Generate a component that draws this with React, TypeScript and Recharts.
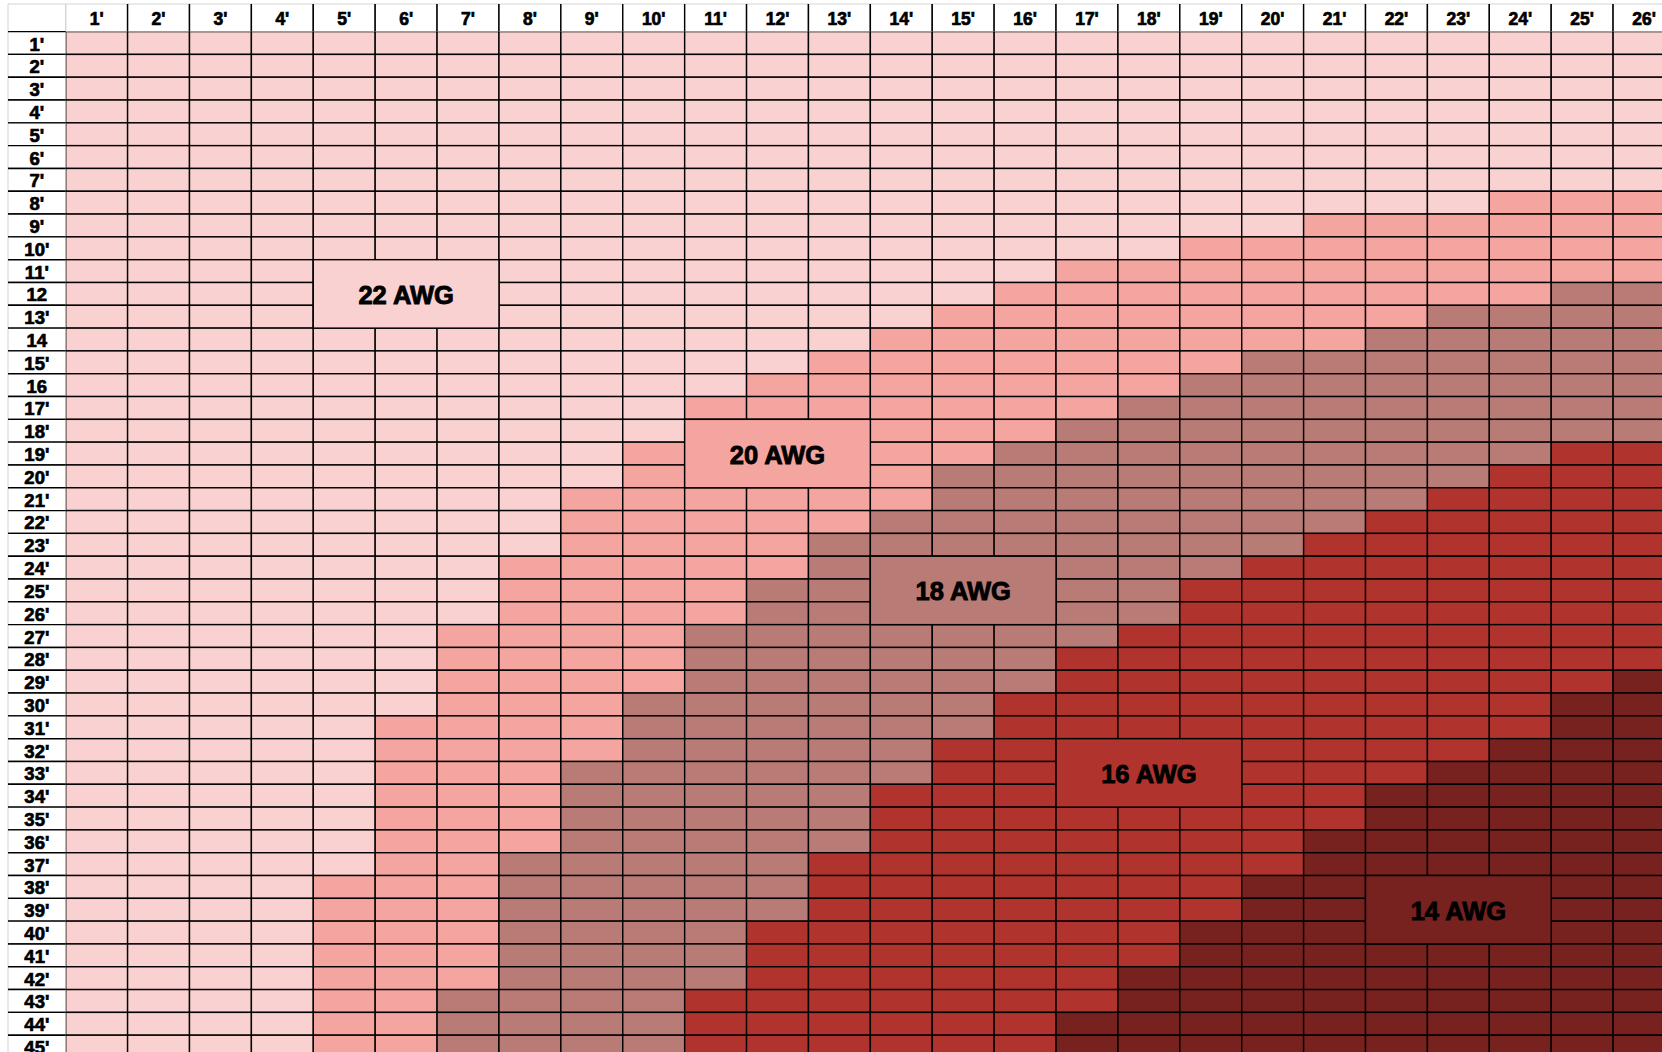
import { ScatterChart, Scatter, XAxis, YAxis } from 'recharts';

// wire length columns (feet)
const columns = [
  "1'", "2'", "3'", "4'", "5'", "6'", "7'", "8'", "9'", "10'", "11'", "12'", "13'",
  "14'", "15'", "16'", "17'", "18'", "19'", "20'", "21'", "22'", "23'", "24'", "25'", "26'",
];

// row labels as printed (some lost their apostrophe)
const rowLabels = [
  "1'", "2'", "3'", "4'", "5'", "6'", "7'", "8'", "9'", "10'", "11'", "12", "13'", "14", "15'",
  "16", "17'", "18'", "19'", "20'", "21'", "22'", "23'", "24'", "25'", "26'", "27'", "28'", "29'", "30'",
  "31'", "32'", "33'", "34'", "35'", "36'", "37'", "38'", "39'", "40'", "41'", "42'", "43'", "44'", "45'",
];

const gauges = ['22 AWG', '20 AWG', '18 AWG', '16 AWG', '14 AWG'];
const gaugeColors = ['#F9D1D0', '#F5A59F', '#B97B76', '#B1332E', '#77221F'];

// first column (1-based) where each heavier gauge begins, per row; 27 = not reached
const start20 = [27, 27, 27, 27, 27, 27, 27, 24, 21, 19, 17, 16, 15, 14, 13, 12, 11, 11, 10, 10, 9, 9, 9, 8, 8, 8, 7, 7, 7, 7, 6, 6, 6, 6, 6, 6, 6, 5, 5, 5, 5, 5, 5, 5, 5];
const start18 = [27, 27, 27, 27, 27, 27, 27, 27, 27, 27, 27, 25, 23, 22, 20, 19, 18, 17, 16, 15, 15, 14, 13, 13, 12, 12, 11, 11, 11, 10, 10, 10, 9, 9, 9, 9, 8, 8, 8, 8, 8, 8, 7, 7, 7];
const start16 = [27, 27, 27, 27, 27, 27, 27, 27, 27, 27, 27, 27, 27, 27, 27, 27, 27, 27, 25, 24, 23, 22, 21, 20, 19, 19, 18, 17, 17, 16, 16, 15, 15, 14, 14, 14, 13, 13, 13, 12, 12, 12, 11, 11, 11];
const start14 = [27, 27, 27, 27, 27, 27, 27, 27, 27, 27, 27, 27, 27, 27, 27, 27, 27, 27, 27, 27, 27, 27, 27, 27, 27, 27, 27, 27, 26, 25, 25, 24, 23, 22, 22, 21, 21, 20, 20, 19, 19, 18, 18, 17, 17];

// merged 3x3 label blocks: centre column / row
const labelGauge = [0, 1, 2, 3, 4];
const labelCol = [6, 12, 15, 18, 23];
const labelRow = [12, 19, 25, 33, 39];

const cells: { col: number; row: number; gauge: number }[] = [];
rowLabels.forEach((_, r) => {
  columns.forEach((_, c) => {
    const col = c + 1;
    const gauge = [start20[r], start18[r], start16[r], start14[r]].filter((s) => s <= col).length;
    cells.push({ col, row: r + 1, gauge });
  });
});

const labels = labelGauge.map((g, i) => ({ col: labelCol[i], row: labelRow[i], gauge: g }));

const CHART_W = 1675;
const CHART_H = 1058;
const MARGIN = { top: 4, right: 0, bottom: 0, left: 8 };
const LABEL_W = 57.7;
const HEADER_H = 27.6;
const cellW = (CHART_W - MARGIN.left - LABEL_W - MARGIN.right) / columns.length;
const cellH = (CHART_H - MARGIN.top - HEADER_H - MARGIN.bottom) / rowLabels.length;
const FONT = '"Liberation Sans", Arial, sans-serif';
const GRAY = '#d4d4d4';

// heavy bold text like the original spreadsheet font
const boldText = {
  fontFamily: FONT,
  fontWeight: 'bold' as const,
  fill: '#000',
  stroke: '#000',
  strokeWidth: 0.7,
  textAnchor: 'middle' as const,
  dominantBaseline: 'central' as const,
};

const HeaderTick = (props: any) => {
  const { x, payload, index } = props;
  const top = MARGIN.top;
  const left = x - cellW / 2;
  return (
    <g>
      {index === 0 && (
        <g>
          <rect x={MARGIN.left} y={top} width={LABEL_W} height={HEADER_H} fill="#fff" />
          <line x1={MARGIN.left} y1={top} x2={MARGIN.left} y2={top + HEADER_H} stroke={GRAY} />
          <line x1={MARGIN.left} y1={top} x2={left} y2={top} stroke={GRAY} />
        </g>
      )}
      <rect x={left} y={top} width={cellW} height={HEADER_H} fill="#fff" />
      <line x1={left} y1={top} x2={left + cellW} y2={top} stroke={GRAY} />
      <line x1={left} y1={top} x2={left} y2={top + HEADER_H} stroke={index === 0 ? GRAY : '#000'} strokeWidth={1.4} />
      <line x1={left + cellW} y1={top} x2={left + cellW} y2={top + HEADER_H} stroke="#000" strokeWidth={1.4} />
      <text x={x} y={top + HEADER_H / 2 + 1} fontSize={17.5} {...boldText}>
        {columns[payload.value - 1]}
      </text>
    </g>
  );
};

const RowTick = (props: any) => {
  const { y, payload } = props;
  const top = y - cellH / 2;
  return (
    <g>
      <rect x={MARGIN.left} y={top} width={LABEL_W} height={cellH} fill="#fff" />
      <line x1={MARGIN.left} y1={top} x2={MARGIN.left} y2={top + cellH} stroke={GRAY} />
      <line x1={MARGIN.left} y1={top} x2={MARGIN.left + LABEL_W} y2={top} stroke="#000" strokeWidth={1.4} />
      <line x1={MARGIN.left} y1={top + cellH} x2={MARGIN.left + LABEL_W} y2={top + cellH} stroke="#000" strokeWidth={1.4} />
      <text x={MARGIN.left + LABEL_W / 2} y={y + 1} fontSize={18.5} {...boldText}>
        {rowLabels[payload.value - 1]}
      </text>
    </g>
  );
};

const CellShape = (props: any) => {
  const { cx, cy, payload } = props;
  if (cx == null || cy == null) return null;
  return (
    <rect
      x={cx - cellW / 2}
      y={cy - cellH / 2}
      width={cellW}
      height={cellH}
      fill={gaugeColors[payload.gauge]}
      stroke="#000"
      strokeWidth={1.4}
    />
  );
};

const LabelShape = (props: any) => {
  const { cx, cy, payload } = props;
  if (cx == null || cy == null) return null;
  return (
    <g>
      <rect
        x={cx - (cellW * 3) / 2}
        y={cy - (cellH * 3) / 2}
        width={cellW * 3}
        height={cellH * 3}
        fill={gaugeColors[payload.gauge]}
        stroke="#000"
        strokeWidth={1.4}
      />
      <text x={cx} y={cy + 1} fontSize={25.5} {...boldText} strokeWidth={0.9}>
        {gauges[payload.gauge]}
      </text>
    </g>
  );
};

export default function App() {
  const xTicks = columns.map((_, i) => i + 1);
  const yTicks = rowLabels.map((_, i) => i + 1);
  return (
    <div
      style={{
        position: 'fixed',
        left: 0,
        top: 0,
        width: 1662,
        height: 1052,
        overflow: 'hidden',
        background: '#fff',
      }}
    >
      <ScatterChart width={CHART_W} height={CHART_H} margin={MARGIN}>
        <XAxis
          type="number"
          dataKey="col"
          orientation="top"
          domain={[0.5, columns.length + 0.5]}
          ticks={xTicks}
          interval={0}
          height={HEADER_H}
          axisLine={false}
          tickLine={false}
          tick={(p: any) => <HeaderTick {...p} />}
        />
        <YAxis
          type="number"
          dataKey="row"
          reversed
          domain={[0.5, rowLabels.length + 0.5]}
          ticks={yTicks}
          interval={0}
          width={LABEL_W}
          axisLine={false}
          tickLine={false}
          tick={(p: any) => <RowTick {...p} />}
        />
        <Scatter data={cells} shape={(p: any) => <CellShape {...p} />} isAnimationActive={false} />
        <Scatter data={labels} shape={(p: any) => <LabelShape {...p} />} isAnimationActive={false} />
      </ScatterChart>
    </div>
  );
}
